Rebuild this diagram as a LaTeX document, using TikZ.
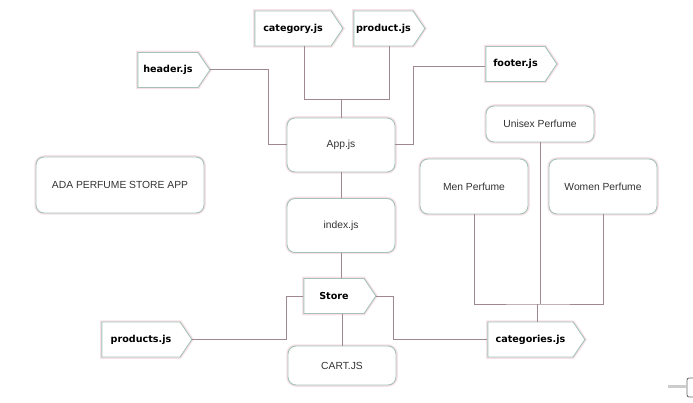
\documentclass[tikz,border=0pt]{standalone}
\usepackage{fontspec}
\setmainfont{Liberation Sans}
\newfontfamily\tagfont{DejaVu Sans}
\usetikzlibrary{positioning, shapes.symbols}
\definecolor{edgegreen}{HTML}{A3C4B5}
\definecolor{glowpink}{HTML}{F7E1E8}
\definecolor{linkmauve}{HTML}{A08890}
\definecolor{textgray}{HTML}{333333}

\begin{document}
\begin{tikzpicture}[x=1pt, y=-1pt,
	box/.style={draw=edgegreen, line width=0.9pt, fill=white, rounded corners=8pt,
		preaction={draw=glowpink, line width=3.5pt},
		minimum width=108pt, minimum height=54pt, inner sep=0pt,
		text=textgray, font=\fontsize{10.3}{12}\selectfont},
	tag/.style={signal, signal to=east, signal pointer angle=112,
		draw=edgegreen, line width=0.9pt, fill=white,
		preaction={draw=glowpink, line width=3.5pt},
		minimum height=35pt, inner sep=0pt,
		font=\tagfont\bfseries\fontsize{9.6}{11}\selectfont},
	link/.style={draw=linkmauve, line width=1pt}]
	\useasboundingbox (0,0) rectangle (693,403);
	%Top files
	\node[tag, minimum width=88pt] (cat) at (293,28.5) {category.js};
	\node[tag, minimum width=71pt] (prod) at (383.5,28.5) {product.js};
	\node[tag, minimum width=72pt] (hdr) at (168,70) {header.js};
	\node[tag, minimum width=71pt] (ftr) at (515.5,64) {footer.js};
	%Main column
	\node[box] (app) at (341,145) {App.js};
	\node[box] (idx) at (341,225.5) {index.js};
	\node[box, minimum width=168pt, minimum height=56pt] (ada) at (120,185) {ADA PERFUME STORE APP};
	\node[tag, minimum width=72pt] (store) at (334,296) {Store};
	\node[box, minimum height=39pt] (cart) at (342,365.5) {CART.JS};
	\node[tag, minimum width=90pt] (prods) at (141,339.5) {products.js};
	\node[tag, minimum width=97pt] (cats) at (530.5,339.5) {categories.js};
	%Perfume categories
	\node[box, minimum height=36pt] (unisex) at (540,124) {Unisex Perfume};
	\node[box, minimum height=55pt] (men) at (474,186.5) {Men Perfume};
	\node[box, minimum height=55pt] (women) at (603,186.5) {Women Perfume};
	% Connectors
	\coordinate (topjoin) at (341,100);
	\coordinate (catjoin) at (537,304);
	\draw[link] ([xshift=11pt]cat.south) |- (topjoin) -- (app.north);
	\draw[link] ([xshift=6pt]prod.south) |- (topjoin);
	\draw[link] (hdr.east) -- ++(58,0) |- (app.west);
	\draw[link] (app.east) -- ++(18,0) |- ([yshift=-3pt]ftr.west);
	\draw[link] (app.south) -- (idx.north);
	\draw[link] (idx.south) -- (idx.south |- store.north);
	\draw[link] (cart.north) -- (cart.north |- store.south);
	\draw[link] (store.west) -- ++(-17,0) |- (prods.east);
	\draw[link] (store.east) -- ++(17,0) |- (cats.west);
	\draw[link] (men.south) |- (catjoin) -| (women.south);
	\draw[link] (unisex.south) -- (unisex.south |- catjoin);
	\draw[link] (catjoin) -- (catjoin |- cats.north);
	% Scroll handle
	\draw[gray!40, line width=3pt] (668,386) -- (686,386);
	\draw[gray!80!black, line width=0.8pt, rounded corners=2pt] (700,378) -- (687,378) -- (687,397) -- (700,397);
\end{tikzpicture}
\end{document}
